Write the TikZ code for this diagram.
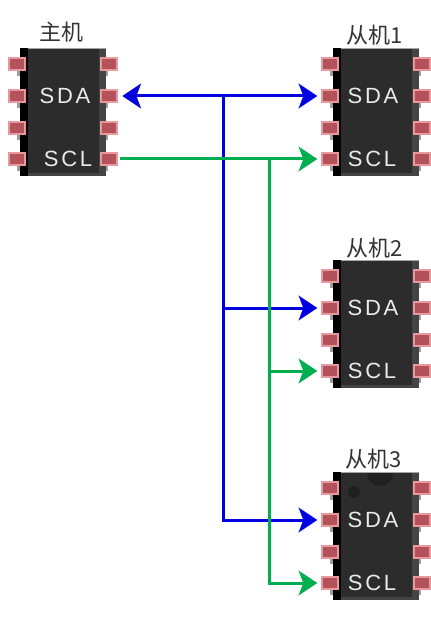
\documentclass[tikz,border=0pt]{standalone}
\usepackage{fontspec}
\setmainfont{Liberation Sans}
\newfontfamily\cjk{Noto Sans CJK SC}
\usetikzlibrary{arrows.meta}
\definecolor{busblue}{HTML}{0000E0}
\definecolor{busgreen}{HTML}{00AE50}
\definecolor{chipbody}{HTML}{2C2C2C}
\definecolor{chipedge}{HTML}{444444}
\definecolor{pinred}{HTML}{B4525A}
\definecolor{pinglow}{HTML}{E8999E}
\definecolor{labeltext}{HTML}{333333}
\tikzset{
  x=0.75pt,y=-0.75pt,
  pinpad/.style={draw=pinglow,line width=0.9pt,fill=pinred,minimum width=12pt,minimum height=9pt,inner sep=0pt,outer sep=0pt},
  pinstub/.style={fill=gray!75,draw=none},
  chiplabel/.style={text=white!92!black,font=\fontsize{16.5}{18}\selectfont\addfontfeature{LetterSpace=12},inner sep=0pt},
  chiptitle/.style={text=labeltext,font=\cjk\fontsize{16.5}{18}\selectfont,inner sep=0pt},
  bus/.style={line width=2.25pt},
  bustip/.style={-{Stealth[inset=3.5pt,length=14pt,width=18.5pt]}},
  busboth/.style={{Stealth[inset=3.5pt,length=14pt,width=18.5pt]}-{Stealth[inset=3.5pt,length=14pt,width=18.5pt]}},
}
% #1 prefix, #2 left x, #3 top y, #4 title, #5 title position, #6 SDA x, #7 SCL x
\newcommand{\icchip}[7]{%
  \begin{scope}[shift={(#2,#3)}]
    \foreach \py in {16,48,80,111}{
      \fill[pinstub] (-3,\py+2) rectangle (3,\py+12);
      \fill[pinstub] (82,\py+2) rectangle (88,\py+12);
    }
    \fill[gray!70] (0,0) rectangle (86,128);
    \fill[black] (0,0) rectangle (8,128);
    \fill[chipbody] (8,1) rectangle (79,125);
    \fill[chipedge] (79,1) rectangle (86,128);
    \fill[chipedge] (8,125) rectangle (79,128);
    \node[pinpad] (#1P1) at (-3,16) {};
    \node[pinpad] (#1SDA) at (-3,48) {};
    \node[pinpad] (#1P3) at (-3,80) {};
    \node[pinpad] (#1SCL) at (-3,111) {};
    \node[pinpad] (#1P8) at (89,16) {};
    \node[pinpad] (#1R2) at (89,48) {};
    \node[pinpad] (#1P6) at (89,80) {};
    \node[pinpad] (#1R4) at (89,111) {};
    \node[chiplabel] (#1L1) at (#6,48) {SDA};
    \node[chiplabel] (#1L2) at (#7,111) {SCL};
    \node[chiptitle] (#1T) at (#5) {#4};
  \end{scope}}
\begin{document}
\begin{tikzpicture}
\useasboundingbox[fill=white] (0,0) rectangle (430,620);
\icchip{m}{20}{48}{主机}{41,-16}{45}{48}
\icchip{a}{333}{48}{从机1}{42,-13}{40}{39}
\icchip{b}{333}{260}{从机2}{42,-12}{40}{39}
\icchip{c}{333}{472}{从机3}{41,-13}{40}{39}
% dim marks on the third chip
\fill[black!25!chipbody] (367,473) arc[start angle=180,end angle=0,radius=13] -- cycle;
\fill[black!30!chipbody] (354,492) circle (6);
% junctions
\coordinate (bj) at (223,0 |- mR2);
\coordinate (gj) at (269,0 |- mR4);
% blue bus
\draw[bus,busblue,busboth,shorten <=4pt,shorten >=3.5pt] (mR2.east) -- (aSDA.west);
\draw[bus,busblue,bustip,shorten >=3.5pt] (bj) |- (bSDA.west);
\draw[bus,busblue,bustip,shorten >=3.5pt] (bj) |- (cSDA.west);
% green bus
\draw[bus,busgreen,bustip,shorten <=2pt,shorten >=3.5pt] (mR4.east) -- (aSCL.west);
\draw[bus,busgreen,bustip,shorten >=3.5pt] (gj) |- (bSCL.west);
\draw[bus,busgreen,bustip,shorten >=3.5pt] (gj) |- (cSCL.west);
\end{tikzpicture}
\end{document}
